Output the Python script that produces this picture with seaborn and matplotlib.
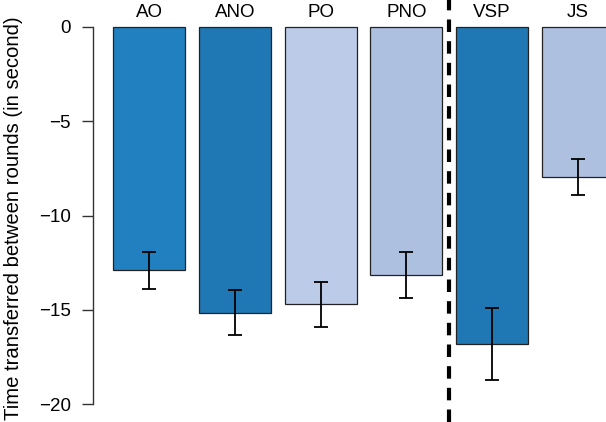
import matplotlib
matplotlib.use("Agg")
import matplotlib.pyplot as plt
import seaborn as sns
import pandas as pd

conditions = ["AO", "ANO", "PO", "PNO", "VSP", "JS"]
means = [-12.9, -15.15, -14.7, -13.15, -16.8, -7.95]
errors = [0.98, 1.2, 1.2, 1.2, 1.9, 0.95]
colors = ["#2080c0", "#1f77b4", "#bccbe7", "#aec0e0", "#1f77b4", "#aec0e0"]
yticks = [0, -5, -10, -15, -20]

sns.set_style("white")
plt.rcParams["font.family"] = ["Liberation Sans", "DejaVu Sans"]
plt.rcParams["text.color"] = "black"
plt.rcParams["ytick.color"] = "black"

df = pd.DataFrame({"condition": conditions, "mean": means})

fig = plt.figure(figsize=(6.06, 4.22), dpi=100)
ax = fig.add_axes([0, 0, 1, 1])

sns.barplot(data=df, x="condition", y="mean", hue="condition",
            palette=colors, saturation=1, width=0.84, edgecolor="#222222",
            linewidth=0.9, legend=False, ax=ax, errorbar=None)

ax.errorbar(range(len(conditions)), means, yerr=errors, fmt="none",
            ecolor="black", elinewidth=1.3, capsize=5, capthick=1.3)

for i, name in enumerate(conditions):
    ax.text(i, 0.3, name, ha="center", va="bottom", fontsize=13.5)

ax.axvline(3.5, color="black", linestyle=(0, (3, 2.2)), linewidth=3)

ax.set_xlim(-1.737, 5.327)
ax.set_ylim(-20.95, 1.43)

for s in ["top", "right", "bottom"]:
    ax.spines[s].set_visible(False)
ax.spines["left"].set_position(("data", -0.653))
ax.spines["left"].set_bounds(-20, 0)
ax.spines["left"].set_color("#333333")
ax.spines["left"].set_linewidth(1)
ax.set_yticks(yticks)
ax.tick_params(axis="y", left=True, length=8, width=1, color="#333333",
               labelsize=13.5, pad=8)
ax.set_xticks([])
ax.set_xlabel("")
ax.set_ylabel("")
fig.text(14 / 606, 0.483, "Time transferred between rounds (in second)",
         rotation=90, ha="center", va="center", fontsize=14.6)

fig.savefig("out.png", dpi=100)
